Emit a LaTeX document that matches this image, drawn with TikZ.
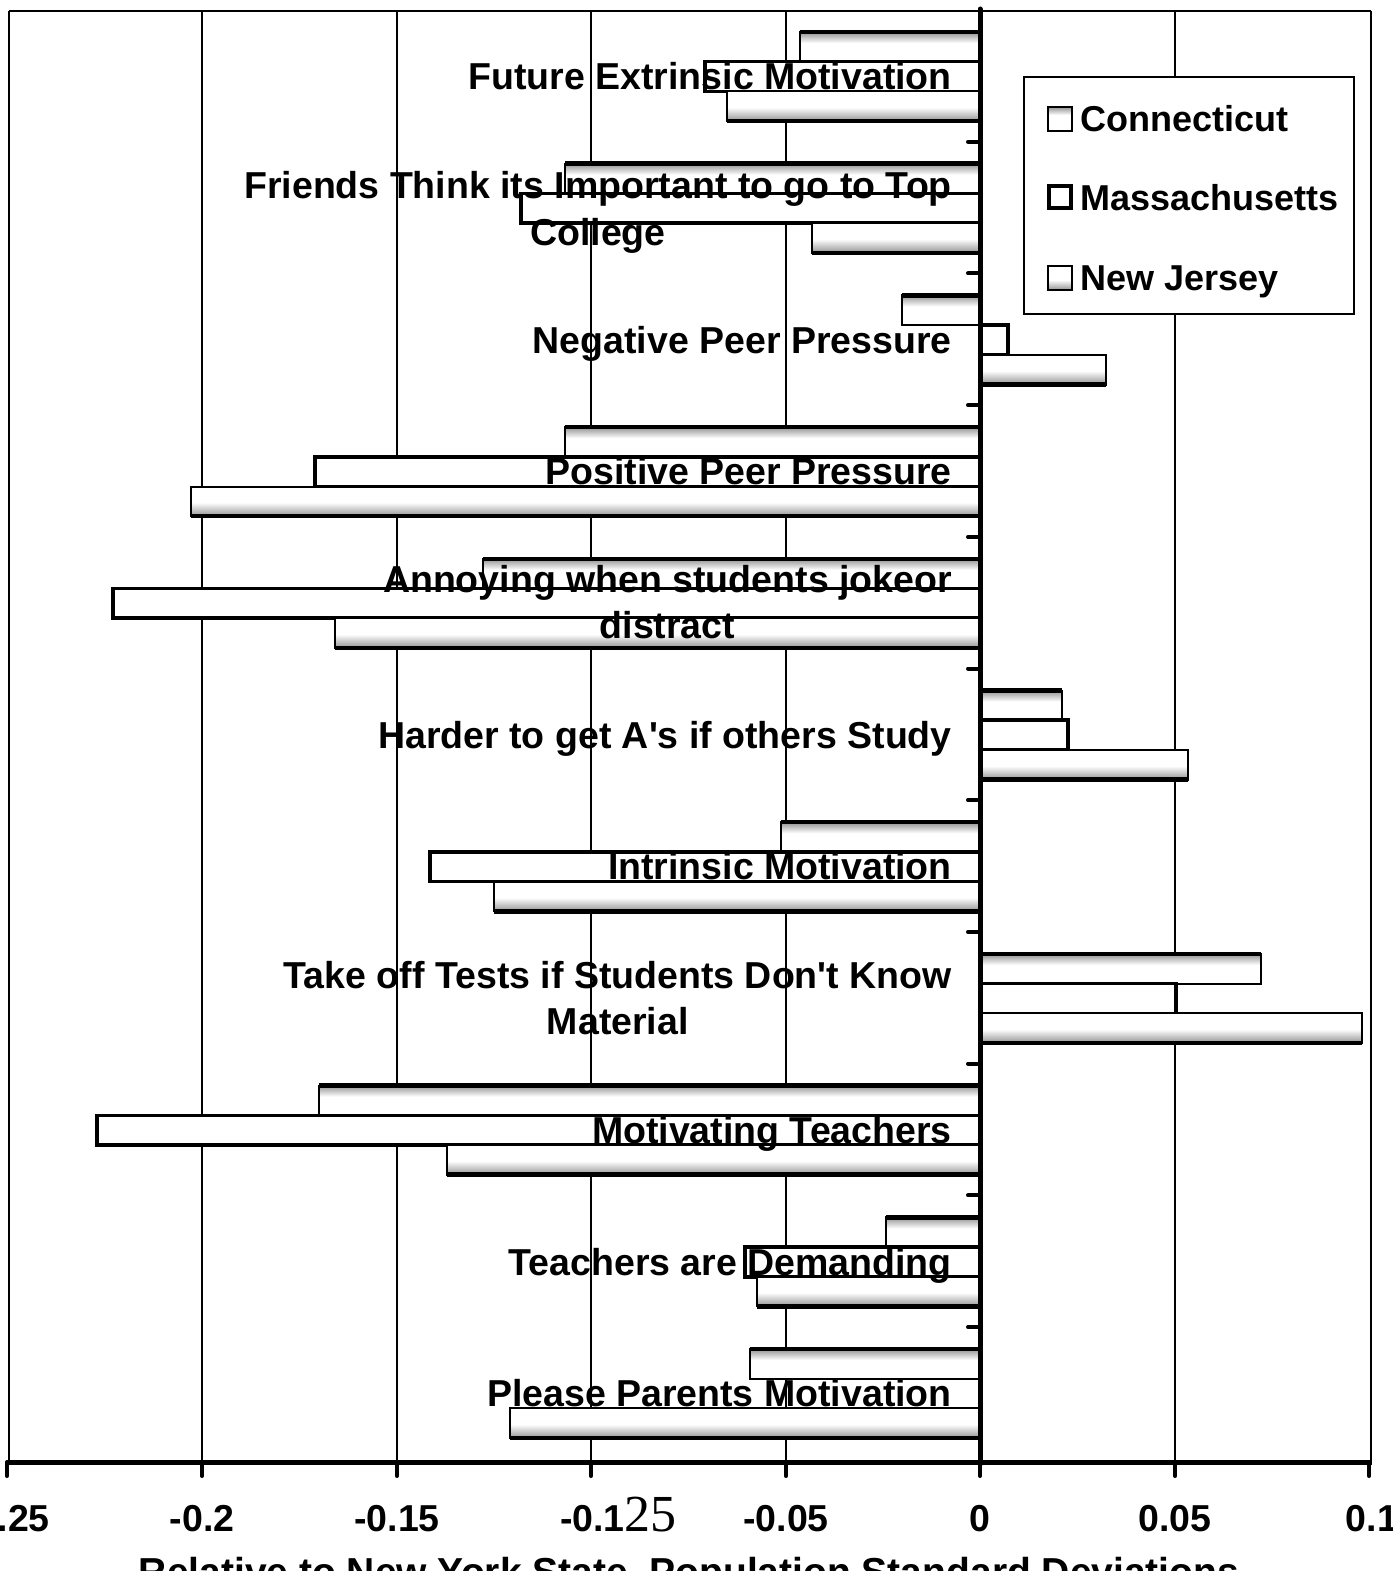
\documentclass[tikz,border=0pt]{standalone}
\usepackage{fontspec}
\setmainfont{Liberation Sans}
\newfontfamily\serifnum{Liberation Serif}
\tikzset{
  lbl/.style={font=\fontsize{37.5}{45}\selectfont\bfseries, inner sep=0pt},
  leg/.style={font=\fontsize{36}{43}\selectfont\bfseries, inner sep=0pt},
  ticklbl/.style={font=\fontsize{37.5}{45}\selectfont\bfseries, inner sep=0pt},
  gridline/.style={line width=1.3pt},
  frame/.style={line width=2.2pt},
}
\newcommand\drawC[2]{% #1 end x, #2 top y
  \fill[white] (#1,#2) rectangle (980,#2+29.7);
  \shade[top color=gray!85,bottom color=white] (#1,#2) rectangle (980,#2+11);
  \draw[line width=2pt] (#1,#2) rectangle (980,#2+29.7);
  \draw[line width=4.5pt] (#1,#2) -- (980,#2);}
\newcommand\drawM[2]{%
  \draw[line width=3.6pt,fill=white] (#1,#2) rectangle (980,#2+29.7);}
\newcommand\drawN[2]{%
  \fill[white] (#1,#2) rectangle (980,#2+29.7);
  \shade[top color=white,bottom color=gray!85] (#1,#2+16) rectangle (980,#2+29.7);
  \draw[line width=2pt] (#1,#2) rectangle (980,#2+29.7);
  \draw[line width=4.5pt] (#1,#2+29.7) -- (980,#2+29.7);}
\begin{document}
\begin{tikzpicture}[x=1pt,y=-1pt]
\useasboundingbox (0,0) rectangle (1392,1571);
\clip (0,0) rectangle (1392,1571);
\fill[white] (0,0) rectangle (1392,1571);
% frame and grid
\draw[frame] (9,11) -- (1371,11);
\draw[frame] (9,11) -- (9,1462);
\draw[frame] (1371,11) -- (1371,1462);
\foreach \x in {202,397,591,786,1175} \draw[gridline] (\x,11) -- (\x,1462);
% bars
\foreach \k/\c/\m/\n in {0/800/705/727, 1/565/521/812, 2/902/1008/1106, 3/565/315/191,
  4/483/113/335, 5/1062/1068/1188, 6/781/430/494, 7/1261/1176/1362,
  8/319/97/447, 9/886/745/757, 10/750/980/510}{
  \pgfmathsetmacro\t{10+131.7*\k+22}
  \drawC{\c}{\t}
  \drawM{\m}{\t+29.7}
  \drawN{\n}{\t+59.4}
}
% axes
\draw[line width=5pt,line cap=round] (980,9) -- (980,1464);
\draw[line width=5pt] (7,1462) -- (1372,1462);
\foreach \x in {7,202,397,591,786,980,1175,1369}
  \draw[line width=4pt,line cap=round] (\x,1462) -- (\x,1476);
\foreach \k in {1,...,10}
  \draw[line width=4pt,line cap=round] (968,10+131.7*\k) -- (980,10+131.7*\k);
% category labels
\node[lbl,anchor=base east] (c0) at (952,89) {Future Extrinsic Motivation};
\node[lbl,anchor=base east] (c1) at (952,198) {Friends Think its Important to go to Top};
\node[lbl,anchor=base] (c1b) at ([yshift=-47pt]c1.base) {College};
\node[lbl,anchor=base east] (c2) at (952,353) {Negative Peer Pressure};
\node[lbl,anchor=base east] (c3) at (952,484) {Positive Peer Pressure};
\node[lbl,anchor=base east] (c4) at (952,592) {Annoying when students jokeor};
\node[lbl,anchor=base] (c4b) at ([yshift=-46pt]c4.base) {distract};
\node[lbl,anchor=base east] (c5) at (952,748) {Harder to get A\textquotesingle s if others Study};
\node[lbl,anchor=base east] (c6) at (952,879) {Intrinsic Motivation};
\node[lbl,anchor=base east] (c7) at (952,988) {Take off Tests if Students Don\textquotesingle t Know};
\node[lbl,anchor=base] (c7b) at ([yshift=-46pt]c7.base) {Material};
\node[lbl,anchor=base east] (c8) at (952,1143) {Motivating Teachers};
\node[lbl,anchor=base east] (c9) at (952,1275) {Teachers are Demanding};
\node[lbl,anchor=base east] (c10) at (952,1406) {Please Parents Motivation};
% tick labels
\node[ticklbl,anchor=base] (t1) at (7,1531) {-0.25};
\node[ticklbl,anchor=base] (t2) at (202,1531) {-0.2};
\node[ticklbl,anchor=base] (t3) at (397,1531) {-0.15};
\node[ticklbl,anchor=base west] (t4) at (560,1531) {-0.1{\serifnum\mdseries\fontsize{52}{52}\selectfont 25}};
\node[ticklbl,anchor=base] (t5) at (786,1531) {-0.05};
\node[ticklbl,anchor=base] (t6) at (980,1531) {0};
\node[ticklbl,anchor=base] (t7) at (1175,1531) {0.05};
\node[ticklbl,anchor=base] (t8) at (1372,1531) {0.1};
\node[lbl,font=\fontsize{39}{45}\selectfont\bfseries,anchor=base] (xt) at (689,1585) {Relative to New York State, Population Standard Deviations};
% legend
\draw[fill=white,line width=1.5pt] (1024,77) rectangle (1354,314);
\fill[white] (1048,107) rectangle (1072,131);
\shade[top color=gray!85,bottom color=white] (1048,107) rectangle (1072,115);
\draw[line width=2pt] (1048,107) rectangle (1072,131);
\draw[line width=3.6pt] (1049,186) rectangle (1071,208);
\fill[white] (1048,266) rectangle (1072,290);
\shade[top color=white,bottom color=gray!85] (1048,280) rectangle (1072,290);
\draw[line width=2pt] (1048,266) rectangle (1072,290);
\node[leg,anchor=base west] (l1) at (1080,131) {Connecticut};
\node[leg,anchor=base west] (l2) at (1080,210) {Massachusetts};
\node[leg,anchor=base west] (l3) at (1080,290) {New Jersey};
\end{tikzpicture}
\end{document}
